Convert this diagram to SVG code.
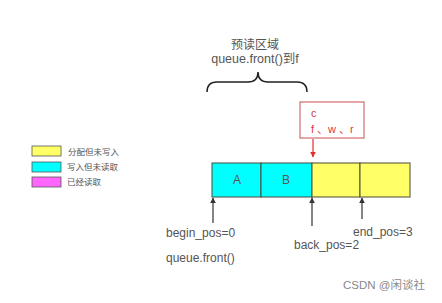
<svg xmlns="http://www.w3.org/2000/svg" width="442" height="303" viewBox="0 0 442 303">
<defs>
<style>
.t{font-family:"Liberation Sans","Noto Sans CJK SC",sans-serif;fill:#555}
.lg{font-size:8.5px}
.lb{font-size:12px}
.cell{stroke:#4a4a3a;stroke-width:1}
.red{font-family:"Liberation Sans","Noto Sans CJK SC",sans-serif;fill:#d93a3a;font-size:11px}
.ar{stroke:#333;stroke-width:1.2;fill:none}
</style>
<marker id="ah" viewBox="0 0 10 10" refX="9" refY="5" markerWidth="6" markerHeight="7" orient="auto" markerUnits="userSpaceOnUse">
<path d="M0,0L10,5L0,10z" fill="#333"/>
</marker>
<marker id="rh" viewBox="0 0 10 10" refX="9" refY="5" markerWidth="6" markerHeight="7" orient="auto" markerUnits="userSpaceOnUse">
<path d="M0,0L10,5L0,10z" fill="#e03030"/>
</marker>
</defs>
<rect width="442" height="303" fill="#fff"/>
<g id="legend">
<rect x="32" y="146" width="29" height="10" fill="#ffff66" stroke="#555" stroke-width="0.8"/>
<rect x="32" y="162" width="29" height="10" fill="#00ffff" stroke="#555" stroke-width="0.8"/>
<rect x="32" y="177" width="29" height="10" fill="#ff66ff" stroke="#555" stroke-width="0.8"/>
<text class="t lg" x="68" y="155">分配但未写入</text>
<text class="t lg" x="67" y="170">写入但未读取</text>
<text class="t lg" x="67" y="185">已经读取</text>
</g>
<g id="preread">
<text class="t" font-size="12" x="255" y="49" text-anchor="middle">预读区域</text>
<text class="t" font-size="12.5" x="255" y="63" text-anchor="middle">queue.front()到f</text>
<path d="M207,92 Q207,82 217,82 L248,82 Q258,82 258,72 Q258,82 268,82 L297,82 Q307,82 307,92" fill="none" stroke="#222" stroke-width="1.5"/>
</g>
<g id="note">
<rect x="300" y="102" width="64" height="36" fill="#fff" stroke="#c85050" stroke-width="1"/>
<text class="red" x="311" y="117">c</text>
<text class="red" x="311" y="133">f 、w 、r</text>
</g>
<g id="array">
<rect class="cell" x="212" y="163" width="49" height="34" fill="#00ffff"/>
<rect class="cell" x="261" y="163" width="51" height="34" fill="#00ffff"/>
<rect class="cell" x="312" y="163" width="48" height="34" fill="#ffff66"/>
<rect class="cell" x="360" y="163" width="50" height="34" fill="#ffff66"/>
<text class="t" font-size="12" x="237" y="184" text-anchor="middle" fill="#2a6a6a">A</text>
<text class="t" font-size="12" x="286" y="184" text-anchor="middle">B</text>
</g>
<g id="labels">
<text class="t lb" x="166" y="237">begin_pos=0</text>
<text class="t lb" x="166" y="262">queue.front()</text>
<text class="t lb" x="294" y="249">back_pos=2</text>
<text class="t lb" x="353" y="236">end_pos=3</text>
</g>
<g id="connectors">
<line class="ar" x1="213" y1="223" x2="213" y2="198" marker-end="url(#ah)"/>
<line class="ar" x1="312" y1="226" x2="312" y2="198" marker-end="url(#ah)"/>
<line class="ar" x1="362" y1="219" x2="362" y2="198" marker-end="url(#ah)"/>
<line x1="313" y1="139" x2="313" y2="157" stroke="#e03030" stroke-width="1.2" marker-end="url(#rh)"/>
</g>
<text x="425" y="289" text-anchor="end" font-family="'Liberation Sans','Noto Sans CJK SC',sans-serif" font-size="11.5" fill="#888">CSDN @闲谈社</text>
</svg>
